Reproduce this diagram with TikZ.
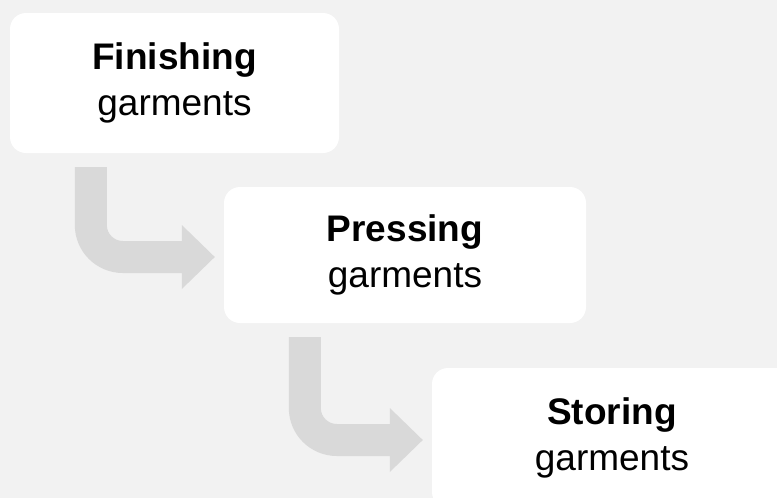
\documentclass[tikz,border=0pt]{standalone}
\usepackage{fontspec}
\setmainfont{Liberation Sans}
\usetikzlibrary{calc,positioning}
\definecolor{paper}{HTML}{F2F2F2}
\definecolor{arrowgray}{HTML}{D9D9D9}
\tikzset{
  stepbox/.style={fill=white,rounded corners=16pt,align=center,inner sep=0pt,
    font=\fontsize{37}{46}\selectfont},
}
% bent block arrow from the bottom of #1 into the left side of #2
\newcommand{\bendarrow}[2]{\fill[arrowgray] let \p1=(#1.south west),\p2=(#2.west) in
  (\x1+65pt,\y1-14pt)--(\x1+97pt,\y1-14pt)--(\x1+97pt,\y2+30pt)
  .. controls (\x1+97pt,\y2+21.2pt) and (\x1+104.2pt,\y2+14pt) .. (\x1+113pt,\y2+14pt)
  --(\x2-42pt,\y2+14pt)--(\x2-42pt,\y2+30pt)--(\x2-9pt,\y2-2pt)--(\x2-42pt,\y2-34pt)
  --(\x2-42pt,\y2-18pt)--(\x1+113pt,\y2-18pt)
  .. controls (\x1+86.5pt,\y2-18pt) and (\x1+65pt,\y2+3.5pt) .. (\x1+65pt,\y2+30pt)--cycle;}

\begin{document}
\begin{tikzpicture}[x=1pt,y=-1pt]
\fill[paper] (0,0) rectangle (777,498);
\useasboundingbox (0,0) rectangle (777,498);
\node[stepbox,minimum width=329pt,minimum height=140pt] (finish) at (174.5,83) {\textbf{Finishing}\\garments};
\node[stepbox,minimum width=362pt,minimum height=136pt] (press) at (405,255) {\textbf{Pressing}\\garments};
\node[stepbox,minimum width=360pt,minimum height=140pt] (store) at (612,438) {\textbf{Storing}\\garments};
\bendarrow{finish}{press}
\bendarrow{press}{store}
\end{tikzpicture}
\end{document}
